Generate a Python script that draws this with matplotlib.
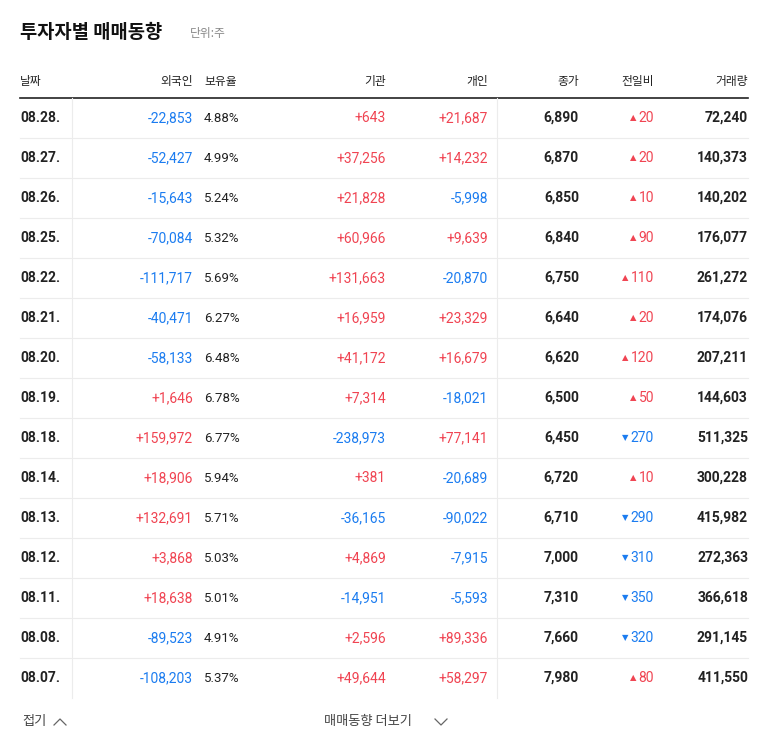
import matplotlib
matplotlib.use("Agg")
import matplotlib.pyplot as plt
from matplotlib import font_manager as fm

dates = ["08.28.","08.27.","08.26.","08.25.","08.22.","08.21.","08.20.","08.19.","08.18.","08.14.","08.13.","08.12.","08.11.","08.08.","08.07."]
foreign = [-22853,-52427,-15643,-70084,-111717,-40471,-58133,1646,159972,18906,132691,3868,18638,-89523,-108203]
holding = [4.88,4.99,5.24,5.32,5.69,6.27,6.48,6.78,6.77,5.94,5.71,5.03,5.01,4.91,5.37]
inst = [643,37256,21828,60966,131663,16959,41172,7314,-238973,381,-36165,4869,-14951,2596,49644]
indiv = [21687,14232,-5998,9639,-20870,23329,16679,-18021,77141,-20689,-90022,-7915,-5593,89336,58297]
close = [6890,6870,6850,6840,6750,6640,6620,6500,6450,6720,6710,7000,7310,7660,7980]
change = [20,20,10,90,110,20,120,50,-270,10,-290,-310,-350,-320,80]
volume = [72240,140373,140202,176077,261272,174076,207211,144603,511325,300228,415982,272363,366618,291145,411550]
headers = ["날짜","외국인","보유율","기관","개인","종가","전일비","거래량"]

names = {f.name for f in fm.fontManager.ttflist}
fam = [n for n in ["Noto Sans CJK KR","Noto Sans CJK JP","Noto Sans CJK SC","Noto Sans KR"] if n in names]
plt.rcParams["font.family"] = ["Roboto"] + fam + ["DejaVu Sans"] if "Roboto" in names else fam + ["DejaVu Sans"]
KR = fam[0] if fam else "DejaVu Sans"
RED = "#f04452"; BLUE = "#1b7cf0"; BLK = "#222222"
fig = plt.figure(figsize=(7.68,7.49), dpi=100)
ax = fig.add_axes([0,0,1,1]); ax.set_xlim(0,768); ax.set_ylim(749,0); ax.axis("off")

ax.text(20,32,"투자자별 매매동향",fontsize=13.5,fontweight="bold",color="#111",va="center",family=KR)
ax.text(190,33,"단위:주",fontsize=8.5,color="#888",va="center",family=KR)

hx = [(20,"left"),(193,"right"),(204,"left"),(386,"right"),(488,"right"),(579,"right"),(654,"right"),(748,"right")]
for (x,ha),h in zip(hx,headers):
    ax.text(x,81,h,fontsize=8.5,color=BLK,ha=ha,va="center",family=KR)
ax.plot([20,748],[98,98],color="#222",lw=1.2)

def sgn(v):
    return ("+" if v>0 else "-") + f"{abs(v):,}"
def col(v):
    return RED if v>0 else BLUE

FS = 10
for i in range(len(dates)):
    y = 118+40*i
    ax.text(20,y,dates[i],fontsize=FS,fontweight="bold",color=BLK,va="center")
    ax.text(193,y,sgn(foreign[i]),fontsize=FS,color=col(foreign[i]),ha="right",va="center")
    ax.text(204,y,f"{holding[i]:.2f}%",fontsize=9.5,color=BLK,ha="left",va="center")
    ax.text(386,y,sgn(inst[i]),fontsize=FS,color=col(inst[i]),ha="right",va="center")
    ax.text(488,y,sgn(indiv[i]),fontsize=FS,color=col(indiv[i]),ha="right",va="center")
    ax.text(579,y,f"{close[i]:,}",fontsize=FS,fontweight="bold",color=BLK,ha="right",va="center")
    c = change[i]
    ax.text(654,y,f"{abs(c)}",fontsize=FS,color=col(c),ha="right",va="center")
    w = len(str(abs(c)))*7.8
    ax.text(654-w-2,y,"▲" if c>0 else "▼",fontsize=6,color=col(c),ha="right",va="center",family="DejaVu Sans")
    ax.text(748,y,f"{volume[i]:,}",fontsize=FS,fontweight="bold",color=BLK,ha="right",va="center")
    if i < len(dates)-1:
        ax.plot([20,748],[y+20,y+20],color="#ececec",lw=0.8)
ax.plot([72,72],[98,698],color="#ececec",lw=0.8)
ax.plot([497,497],[98,698],color="#ececec",lw=0.8)

ax.text(22,721,"접기",fontsize=9.5,color="#444",va="center",family=KR)
ax.plot([54,60,66],[725,719,725],color="#666",lw=0.9)
ax.text(324,721,"매매동향 더보기",fontsize=9.5,color="#444",va="center",family=KR)
ax.plot([435,441,447],[719,725,719],color="#666",lw=0.9)

fig.savefig("out.png",dpi=100)
